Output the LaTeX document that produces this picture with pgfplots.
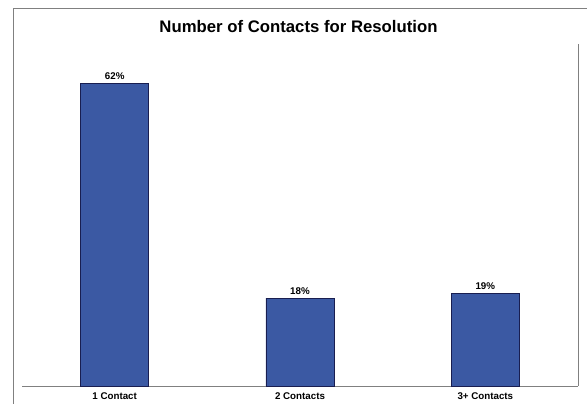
\documentclass[border=0pt]{standalone}
\usepackage{pgfplots}
\pgfplotsset{compat=1.18}
\usepackage{fontspec}
\setmainfont{Liberation Sans}
\definecolor{barfill}{RGB}{59,89,163}
\definecolor{baredge}{RGB}{25,30,80}
\definecolor{frame}{RGB}{128,128,128}
\begin{document}
\begin{tikzpicture}
\useasboundingbox (0,0) rectangle (587bp,404bp);
% outer chart frame (top and left edges)
\draw[frame, line width=0.8bp] (13bp,0) -- (13bp,396bp) -- (587bp,396bp);
\node[font=\bfseries\fontsize{16.8}{19}\selectfont] at (298.5bp,377.5bp) {Number of Contacts for Resolution};
\begin{axis}[
  at={(22bp,18bp)}, anchor=south west,
  width=556bp, height=342bp, scale only axis,
  xmin=-0.5, xmax=2.5, ymin=0, ymax=70,
  axis x line*=bottom, axis y line*=right,
  axis line style={frame, line width=0.8bp, -},
  ytick=\empty,
  xtick={0,1,2}, xticklabels={1 Contact,2 Contacts,3+ Contacts},
  major tick length=0pt,
  /pgf/number format/assume math mode=true,
  xticklabel style={font=\bfseries\fontsize{9.8}{11}\selectfont, yshift=-3.5bp},
  ybar, bar width=0.367,
  nodes near coords={\pgfmathprintnumber{\pgfplotspointmeta}\%},
  nodes near coords style={font=\bfseries\fontsize{9.8}{11}\selectfont, yshift=-0.5bp},
  clip=false,
]
\addplot[fill=barfill, draw=baredge, line width=0.6bp] coordinates {(0,62) (1,18) (2,19)};
\end{axis}
\end{tikzpicture}
\end{document}
